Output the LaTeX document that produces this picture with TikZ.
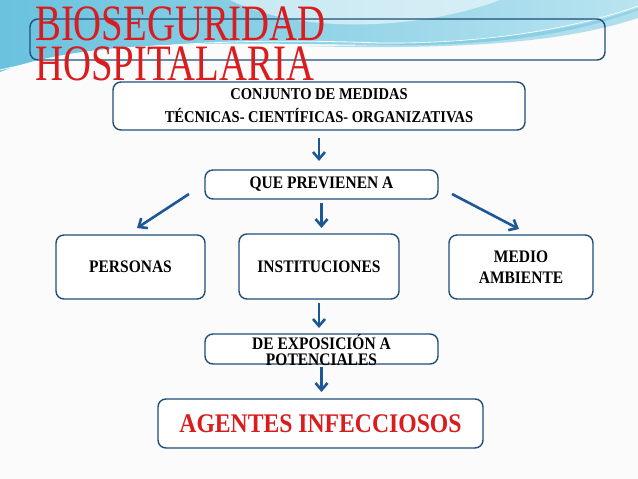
\documentclass[tikz,border=0pt]{standalone}
\usepackage{fontspec}
\setmainfont{Liberation Serif}
\newfontfamily\titlefont[FakeStretch=0.76]{Liberation Serif}
\newfontfamily\boxfont[FakeStretch=0.88]{Liberation Serif}
\usetikzlibrary{arrows.meta,positioning,calc}
\definecolor{bordeazul}{RGB}{31,78,121}
\definecolor{flechaazul}{RGB}{30,88,148}
\definecolor{rojotitulo}{RGB}{218,28,30}
\definecolor{cianfondo}{RGB}{105,194,222}
\definecolor{cianclaro}{RGB}{185,228,240}

\begin{document}
\begin{tikzpicture}[x=1pt, y=-1pt,
    caja/.style={draw=bordeazul, line width=1.4pt, rounded corners=8pt, fill=white, align=center, inner sep=0pt, outer sep=0pt, font=\boxfont\bfseries\fontsize{17.6}{21}\selectfont},
    marco/.style={draw=bordeazul, line width=1.4pt, rounded corners=8pt, inner sep=0pt, outer sep=0pt},
    texto/.style={align=center, inner sep=0pt, font=\boxfont\bfseries\fontsize{17.6}{16}\selectfont},
    flecha/.style={-{Straight Barb[length=7pt,width=12pt]}, line width=2.6pt, flechaazul},
    titulo/.style={anchor=base west, inner sep=0pt, text=rojotitulo, font=\titlefont\fontsize{51}{51}\selectfont}
]
\useasboundingbox (0,0) rectangle (638,479);
\fill[gray!3] (0,0) rectangle (638,479);

% swoosh at the top
\shade[left color=cianfondo, right color=cianclaro] (0,0) -- (638,0) -- (638,10) .. controls (560,40) and (470,46) .. (380,45) .. controls (250,44) and (90,36) .. (0,72) -- cycle;
\fill[white, opacity=0.55] (230,0) .. controls (300,35) and (420,30) .. (500,0) -- cycle;
\fill[cianfondo, opacity=0.5] (300,46) .. controls (450,46) and (560,36) .. (638,8) -- (638,18) .. controls (560,44) and (450,50) .. (300,46) -- cycle;
\draw[white, line width=0.8pt] (0,70) .. controls (120,42) and (250,38) .. (380,43);
\draw[white, line width=0.6pt] (380,43) .. controls (480,44) and (570,30) .. (638,6);

% title
\node[marco, minimum width=575pt, minimum height=41pt] (marco) at (317.5,39.5) {};
\node[titulo] (bio) at (35,40) {BIOSEGURIDAD};
\node[titulo] (hosp) at (35,80) {HOSPITALARIA};

% boxes
\node[caja, minimum width=412pt, minimum height=48pt, font=\boxfont\bfseries\fontsize{16.5}{23}\selectfont] (medidas) at (319,106) {CONJUNTO DE MEDIDAS\\TÉCNICAS- CIENTÍFICAS- ORGANIZATIVAS};
\node[caja, minimum width=233pt, minimum height=29pt] (que) at (321.5,184.5) {QUE PREVIENEN A};
\node[caja, minimum width=149pt, minimum height=64pt] (personas) at (130.5,267) {PERSONAS};
\node[caja, minimum width=160pt, minimum height=65pt] (instituciones) at (319,266.5) {INSTITUCIONES};
\node[caja, minimum width=144pt, minimum height=64pt] (medio) at (521,267) {MEDIO\\AMBIENTE};
\node[caja, minimum width=233pt, minimum height=30pt] (exposicion) at (321.5,349) {};
\node[texto] (exptexto) at (321.5,350) {DE EXPOSICIÓN A\\POTENCIALES};
\node[caja, minimum width=325pt, minimum height=49pt, text=rojotitulo, font=\boxfont\bfseries\fontsize{26.9}{30}\selectfont] (agentes) at (320.5,423.5) {AGENTES INFECCIOSOS};

% arrows
\draw[flecha, shorten <=8pt, shorten >=9pt] (medidas.south) -- (medidas.south |- que.north);
\draw[flecha] ($(que.west)+(-16,9.5)$) -- ($(personas.north)+(6.5,-7)$);
\draw[flecha, shorten <=4pt, shorten >=6pt] (que.south) -- (que.south |- instituciones.north);
\draw[flecha] ($(que.east)+(14,9.5)$) -- ($(medio.north)+(-2,-6)$);
\draw[flecha, shorten <=4pt, shorten >=6pt] (instituciones.south) -- (instituciones.south |- exposicion.north);
\draw[flecha, shorten <=3pt, shorten >=7pt] (exposicion.south) -- (exposicion.south |- agentes.north);
\end{tikzpicture}
\end{document}
